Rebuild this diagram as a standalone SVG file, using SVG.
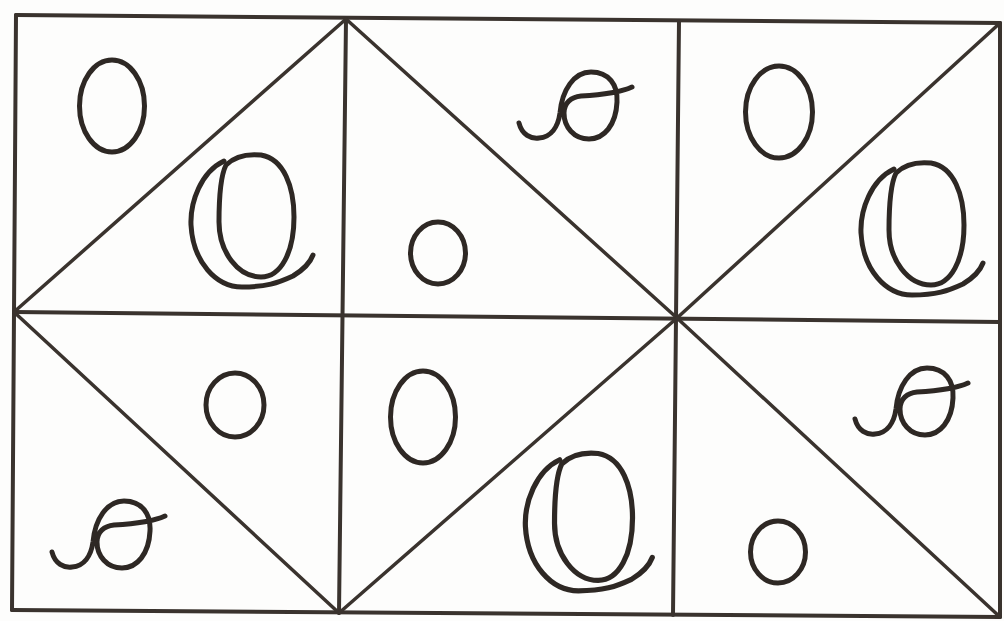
<svg xmlns="http://www.w3.org/2000/svg" width="1004" height="621" viewBox="0 0 1004 621">
  <defs>
    <style>
      .grid { stroke: #3a332e; stroke-width: 4; fill: none; stroke-linecap: round; }
      .diag { stroke: #3a332e; stroke-width: 3.5; fill: none; stroke-linecap: round; }
      .pen { stroke: #2e2824; stroke-width: 5; fill: none; stroke-linecap: round; stroke-linejoin: round; }
    </style>
    <g id="cursiveO">
      <path class="pen" d="M -30,-52 C -20,-62 -5,-63 5,-62 C 28,-58 38,-30 38,0 C 38,35 25,60 5,60 C -18,60 -37,35 -37,5 C -37,-20 -35,-42 -30,-52 Z"/>
      <path class="pen" d="M -32,-56 C -55,-45 -66,-15 -65,8 C -63,45 -40,70 -14,70 C 10,70 22,66 37,59 C 47,53 54,46 57,38"/>
    </g>
    <g id="cursiveSmallO">
      <path class="pen" d="M -70,18 C -67,30 -58,34 -50,33 C -38,32 -31,22 -29,8 C -27,-15 -15,-33 2,-33 C 20,-33 29,-20 28,-3 C 27,20 15,34 0,34 C -15,34 -25,22 -25,8 C -25,-2 -18,-8 -8,-9 C 10,-10 30,-12 43,-18"/>
    </g>
  </defs>
  <rect x="0" y="0" width="1004" height="621" fill="#fdfdfc"/>

  <g id="connectors">
    <g id="grid-lines">
      <path class="grid" d="M 16,15 L 1000,23"/>
      <path class="grid" d="M 14,312 L 1000,322"/>
      <path class="grid" d="M 12,610 L 1000,617"/>
      <path class="grid" d="M 16,15 L 12,610"/>
      <path class="grid" d="M 346,19 L 339,613"/>
      <path class="grid" d="M 679,21 L 673,615"/>
      <path class="grid" d="M 1000,23 L 1000,617"/>
    </g>
    <g id="diagonals">
      <path class="diag" d="M 14,312 L 346,19"/>
      <path class="diag" d="M 346,19 L 677,318"/>
      <path class="diag" d="M 677,318 L 1000,23"/>
      <path class="diag" d="M 14,312 L 339,613"/>
      <path class="diag" d="M 339,613 L 677,318"/>
      <path class="diag" d="M 677,318 L 1000,617"/>
    </g>
  </g>

  <g id="cell-1-1">
    <ellipse class="pen" cx="112" cy="106" rx="32.5" ry="46"/>
    <use href="#cursiveO" transform="translate(256,217)"/>
  </g>
  <g id="cell-1-2">
    <use href="#cursiveSmallO" transform="translate(589,105)"/>
    <ellipse class="pen" cx="438" cy="253" rx="27.5" ry="31"/>
  </g>
  <g id="cell-1-3">
    <ellipse class="pen" cx="779" cy="112" rx="33.5" ry="46"/>
    <use href="#cursiveO" transform="translate(926,225)"/>
  </g>
  <g id="cell-2-1">
    <ellipse class="pen" cx="235" cy="405" rx="29" ry="32"/>
    <use href="#cursiveSmallO" transform="translate(122,534)"/>
  </g>
  <g id="cell-2-2">
    <ellipse class="pen" cx="423" cy="417" rx="32.5" ry="46"/>
    <use href="#cursiveO" transform="translate(593,518) scale(1.04)"/>
  </g>
  <g id="cell-2-3">
    <use href="#cursiveSmallO" transform="translate(925,401)"/>
    <ellipse class="pen" cx="778" cy="552" rx="27.5" ry="31"/>
  </g>
</svg>
